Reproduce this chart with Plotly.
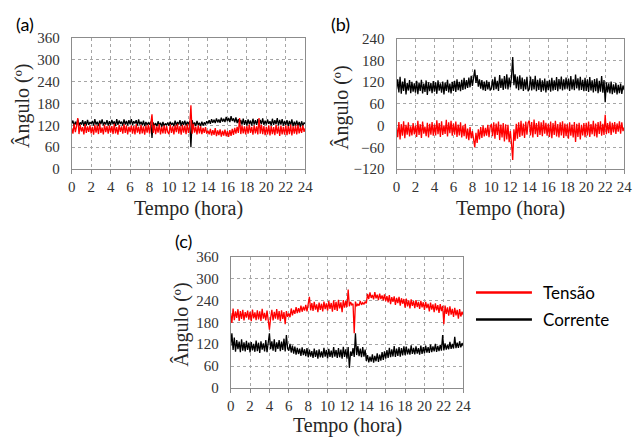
import plotly.graph_objects as go

# time grid (hours), 0.125 h steps
hours = [i * 0.125 for i in range(193)]

# Panel (a)
a_corrente = [125,133,117,130,121,136,119,128,122,134,118,131,120,135,121,129,
              124,132,119,137,122,130,118,133,123,136,120,129,122,134,119,131,
              121,135,123,131,118,137,121,133,124,130,119,136,122,132,120,134,
              123,137,121,131,125,134,119,136,122,130,120,133,118,129,121,127,
              122,130,85,128,119,126,117,131,120,127,116,129,118,125,120,128,
              119,130,121,127,117,133,120,129,122,134,118,131,121,133,119,130,
              123,131,60,134,120,128,118,132,121,127,117,130,119,128,122,131,
              125,134,124,137,127,135,126,139,128,136,127,141,130,138,129,143,
              131,140,129,145,132,139,128,142,126,137,124,135,122,138,121,134,
              120,136,123,133,119,138,122,134,121,137,120,135,123,139,121,133,
              122,136,124,131,120,138,121,134,123,140,120,135,122,137,119,132,
              121,134,118,132,120,136,117,130,119,133,118,129,116,131,119,127,
              124]
a_tensao = [112,97,124,101,118,140,96,121,103,115,95,123,99,117,102,120,
            98,116,94,121,100,119,96,125,99,114,95,122,101,118,97,120,
            100,118,96,124,98,115,94,121,102,117,97,123,99,119,95,116,
            101,120,97,118,95,123,100,116,96,121,98,117,94,119,100,122,
            97,118,150,99,121,96,117,100,123,95,116,98,120,97,118,101,
            96,122,99,117,95,120,101,124,97,118,94,121,100,119,96,123,
            99,118,175,97,124,100,116,95,120,98,117,96,113,99,115,97,
            105,95,110,92,107,94,112,90,106,93,109,89,105,92,108,90,
            104,88,107,91,110,94,113,97,116,99,140,96,119,98,117,95,
            118,97,122,99,116,94,120,98,117,95,140,97,121,96,118,93,
            116,95,120,92,118,96,115,93,121,97,117,91,119,95,116,94,
            120,93,118,96,122,92,117,97,119,95,121,98,116,99,120,102,
            112]

# Panel (b)
b_corrente = [100,128,92,135,88,122,96,131,86,118,97,126,90,121,94,117,
              91,124,87,119,96,127,89,116,93,125,85,120,95,118,90,123,
              94,120,88,125,97,117,91,122,86,119,96,127,92,116,89,121,
              96,124,93,128,98,121,95,127,99,132,101,126,104,133,106,138,
              110,135,155,118,140,108,128,102,126,98,122,96,125,100,121,97,
              103,128,98,135,101,124,96,140,104,130,99,137,102,142,100,133,
              106,135,190,112,142,103,136,98,139,101,133,96,128,100,135,95,
              102,136,97,129,100,138,95,127,99,131,93,125,97,130,92,124,
              98,127,94,132,97,125,99,134,95,129,101,136,97,128,100,133,
              102,130,96,137,100,128,98,141,103,131,97,135,99,127,95,132,
              96,128,93,134,97,125,92,129,95,131,90,124,94,137,91,126,
              65,120,92,117,89,122,87,114,91,118,86,113,90,116,88,111,
              98]
b_tensao = [-5,-32,10,-38,4,-28,12,-35,2,-25,9,-30,-2,-27,7,-24,
            0,-31,13,-26,4,-34,11,-22,-3,-29,8,-33,5,-25,10,-28,
            3,-27,15,-24,7,-31,12,-26,1,-23,16,-30,9,-21,13,-28,
            6,-25,11,-31,3,-27,9,-33,0,-29,5,-36,-8,-40,-4,-35,
            -15,-45,-60,-20,-48,-10,-38,-4,-34,0,-30,-6,-28,2,-32,-3,
            4,-29,9,-36,6,-26,11,-40,3,-33,7,-44,4,-38,2,-46,
            -15,-50,-95,-10,-42,5,-36,9,-31,13,-28,6,-34,11,-25,8,
            14,-27,10,-33,17,-24,7,-31,12,-26,9,-29,15,-22,8,-28,
            5,-31,11,-35,7,-26,13,-30,4,-33,9,-27,12,-34,6,-29,
            4,-36,9,-28,3,-33,10,-45,5,-31,8,-38,2,-27,7,-32,
            8,-27,11,-31,4,-24,13,-29,6,-33,10,-23,12,-28,5,-26,
            30,-24,7,-21,11,-26,8,-19,10,-23,6,-17,12,-22,9,-15,
            -5]

# Panel (c)
c_tensao = [205,178,218,186,210,192,216,184,211,189,214,185,208,193,212,187,
            209,183,215,191,207,186,213,188,210,184,217,190,206,185,212,188,
            160,192,214,185,209,190,216,187,211,183,213,189,208,175,211,195,
            204,194,218,199,214,203,222,205,219,207,226,209,223,212,228,210,
            230,250,213,233,211,236,215,229,208,234,214,231,210,237,216,232,
            212,238,217,233,209,240,214,236,211,242,218,235,208,241,220,238,
            222,270,224,236,228,231,150,237,224,230,226,239,228,234,230,236,
            232,258,244,262,247,255,243,263,246,256,241,259,244,254,240,257,
            238,252,235,255,230,249,236,251,228,247,233,250,226,246,231,244,
            220,245,224,240,218,243,225,238,219,241,222,236,217,239,221,235,
            214,236,219,231,210,234,215,229,208,232,213,227,206,230,211,225,
            175,226,203,221,198,224,201,217,195,220,199,214,190,216,196,209,
            200]
c_corrente = [115,150,104,138,99,131,106,127,98,133,102,125,100,129,104,124,
              97,126,103,121,99,130,101,124,96,128,105,122,100,131,98,135,
              150,106,128,102,133,99,125,107,131,101,127,104,135,100,145,108,
              102,121,97,116,94,113,91,110,93,108,88,111,90,106,87,109,
              84,105,86,101,82,108,85,103,80,106,84,100,83,110,86,104,
              81,107,85,102,83,112,86,104,82,109,84,105,80,113,85,106,
              80,112,55,100,88,109,85,150,90,115,87,108,84,112,86,105,
              74,90,70,86,72,92,69,88,73,95,71,91,75,98,77,100,
              80,104,82,110,84,106,86,115,85,108,88,112,86,109,89,114,
              90,113,92,108,91,117,93,110,92,114,94,109,91,116,93,112,
              95,116,97,112,96,119,98,114,100,121,99,115,101,118,102,145,
              103,122,105,118,106,126,107,121,108,140,109,124,110,128,111,123,
              115]

x_ticks = list(range(0, 25, 2))
y_ticks_ac = [0, 60, 120, 180, 240, 300, 360]
y_ticks_b = [-120, -60, 0, 60, 120, 180, 240]

colors = {"Tensão": "#FF0000", "Corrente": "#000000"}

W, H = 641, 446
fig = go.Figure()

panels = [
    ("x", "y", a_tensao, a_corrente),
    ("x2", "y2", b_tensao, b_corrente),
    ("x3", "y3", c_tensao, c_corrente),
]
for xa, ya, ten, cor in panels:
    fig.add_trace(go.Scatter(x=hours, y=cor, mode="lines", name="Corrente",
                             line=dict(color=colors["Corrente"], width=1.3),
                             xaxis=xa, yaxis=ya, showlegend=False))
    fig.add_trace(go.Scatter(x=hours, y=ten, mode="lines", name="Tensão",
                             line=dict(color=colors["Tensão"], width=1.3),
                             xaxis=xa, yaxis=ya, showlegend=False))

def px_x(p):
    return p / W

def px_y(p):
    return 1 - p / H

SERIF = "Liberation Serif, Times New Roman, Times, serif"
tick_font = dict(family=SERIF, size=15, color="#333333")
xcommon = dict(range=[0, 24], tickvals=x_ticks, showgrid=True, gridcolor="#A6A6A6",
               griddash="3px,3px", gridwidth=1, showline=True, linecolor="#8C8C8C",
               linewidth=1, mirror=True, ticks="outside", ticklen=4, tickcolor="#8C8C8C",
               tickfont=tick_font, zeroline=False, fixedrange=True)
ycommon = dict(showgrid=True, gridcolor="#A6A6A6", griddash="3px,3px", gridwidth=1,
               showline=True, linecolor="#8C8C8C", linewidth=1, mirror=True,
               ticks="", tickfont=tick_font, zeroline=False, ticklabelstandoff=8,
               fixedrange=True)

fig.update_layout(
    width=W, height=H,
    margin=dict(l=0, r=0, t=0, b=0),
    paper_bgcolor="white", plot_bgcolor="white",
    showlegend=False,
    xaxis=dict(domain=[px_x(69), px_x(307)], anchor="y", **xcommon),
    yaxis=dict(domain=[px_y(167), px_y(31)], anchor="x", range=[0, 360],
               tickvals=y_ticks_ac, **ycommon),
    xaxis2=dict(domain=[px_x(400), px_x(632)], anchor="y2", **xcommon),
    yaxis2=dict(domain=[px_y(167), px_y(32)], anchor="x2", range=[-120, 240],
                tickvals=y_ticks_b, **ycommon),
    xaxis3=dict(domain=[px_x(231), px_x(468)], anchor="y3", **xcommon),
    yaxis3=dict(domain=[px_y(394), px_y(258)], anchor="x3", range=[0, 360],
                tickvals=y_ticks_ac, **ycommon),
)

title_font = dict(family=SERIF, size=20, color="#262626")
label_font = dict(family="Lato", size=18, color="#000000")
annots = []
for cx, cy in [(188, 208), (516, 208), (350, 433)]:
    annots.append(dict(text="Tempo (hora)", x=px_x(cx), y=px_y(cy), xref="paper", yref="paper",
                       xanchor="center", yanchor="middle", showarrow=False, font=title_font))
for cx, cy in [(19, 101), (344, 103), (181, 328)]:
    annots.append(dict(text="Ângulo (º)", x=px_x(cx), y=px_y(cy), xref="paper", yref="paper",
                       xanchor="center", yanchor="middle", showarrow=False, textangle=-90,
                       font=title_font))
for txt, cx, cy in [("(a)", 21, 17), ("(b)", 343, 17), ("(c)", 183, 242)]:
    annots.append(dict(text=txt, x=px_x(cx), y=px_y(cy), xref="paper", yref="paper",
                       xanchor="center", yanchor="middle", showarrow=False, font=label_font))

shapes = []
for name, ly in [("Tensão", 295), ("Corrente", 323)]:
    shapes.append(dict(type="line", xref="paper", yref="paper",
                       x0=px_x(481), x1=px_x(538), y0=px_y(ly), y1=px_y(ly),
                       line=dict(color=colors[name], width=2.5)))
    annots.append(dict(text=name, x=px_x(547), y=px_y(ly), xref="paper", yref="paper",
                       xanchor="left", yanchor="middle", showarrow=False,
                       font=dict(family="Lato", size=17, color="#000000")))

fig.update_layout(annotations=annots, shapes=shapes)
fig.write_html("out.html")
